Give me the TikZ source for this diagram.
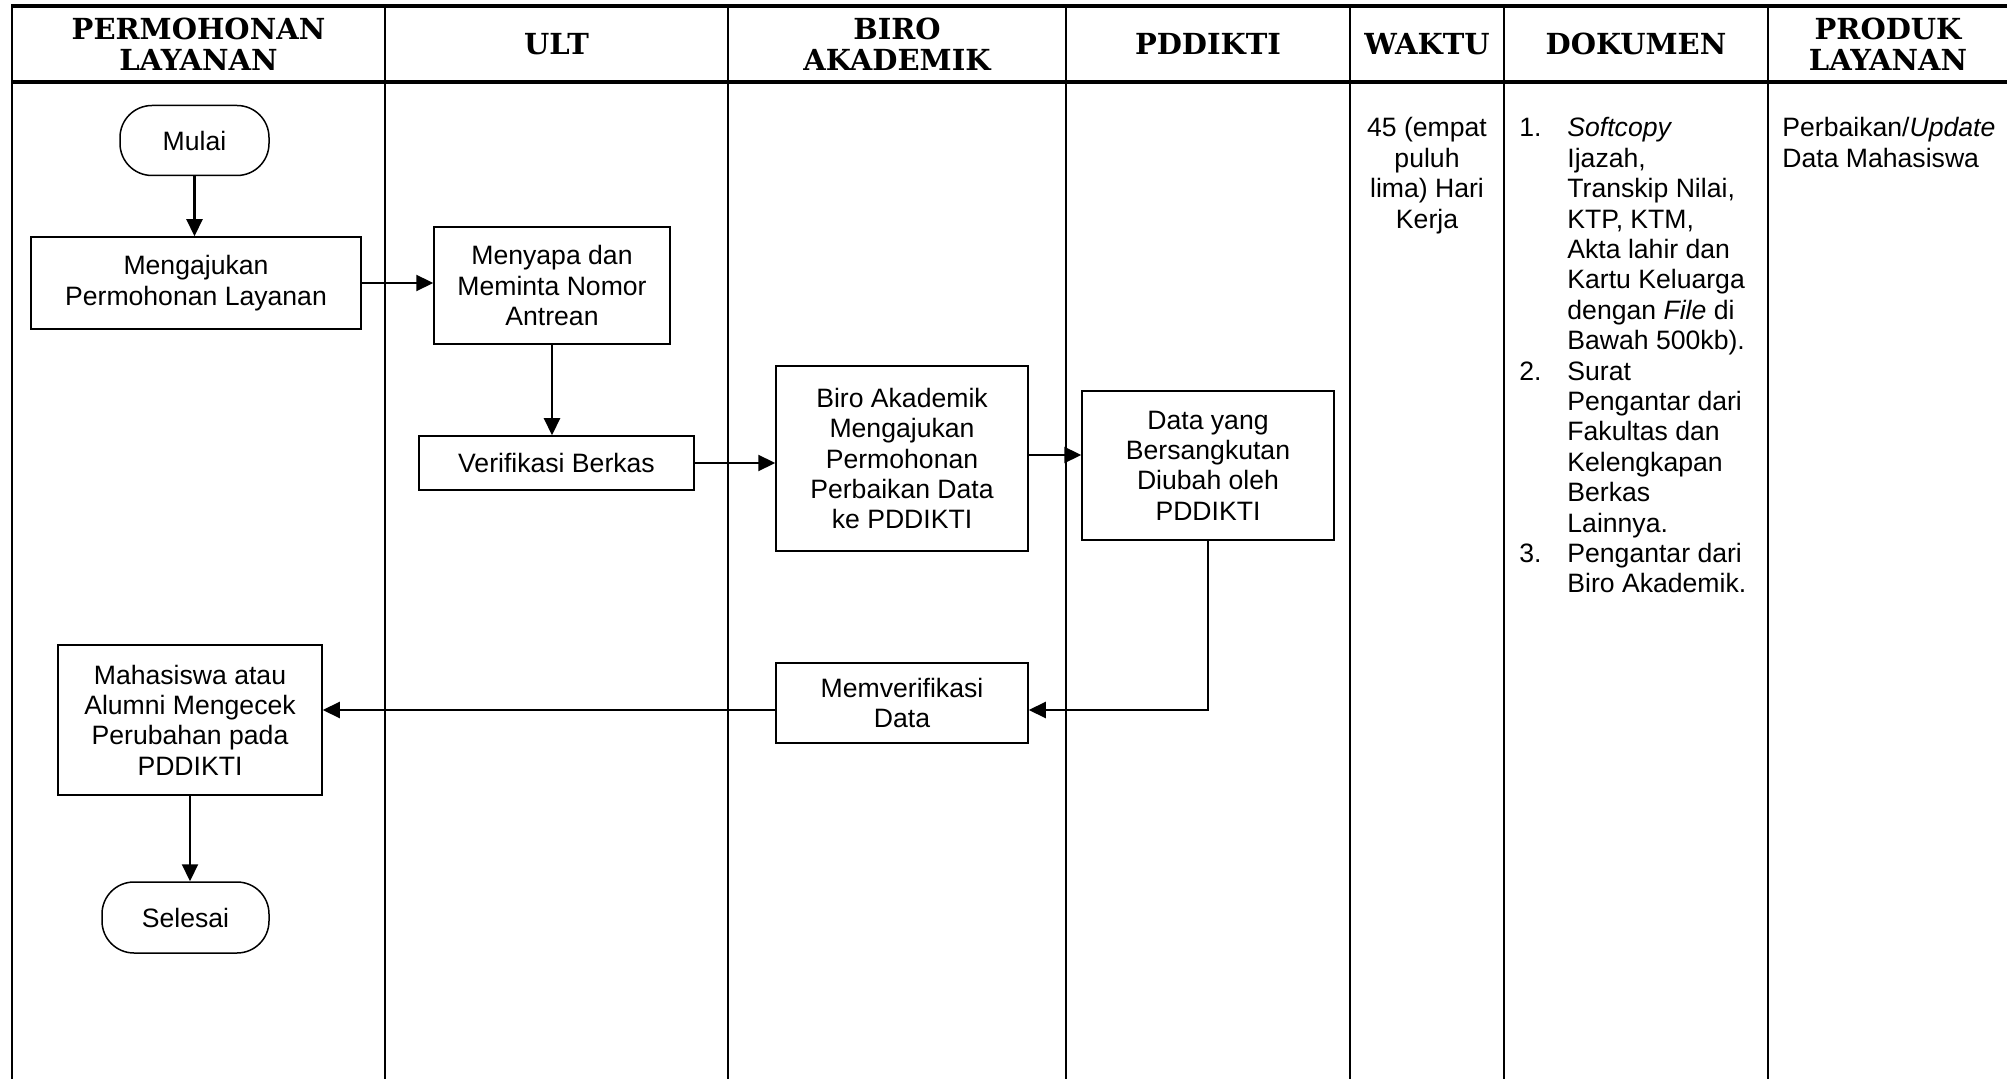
\documentclass[tikz,border=0pt]{standalone}
\usepackage{fontspec}
\setmainfont{Liberation Sans}
\newfontfamily\hdrfont{DejaVu Serif}
\usetikzlibrary{arrows.meta}
\newcommand\bdyfnt{\fontsize{13.3pt}{15.2pt}\selectfont}
\newcommand\hdrfnt{\hdrfont\bfseries\fontsize{14.5pt}{15.6pt}\selectfont}
\begin{document}
\begin{tikzpicture}[x=0.5pt,y=-0.5pt,
  vline/.style={line width=1.1pt},
  hline/.style={line width=1.6pt},
  box/.style={draw,line width=0.75pt,align=center,inner sep=0pt,font=\bdyfnt},
  term/.style={box,rounded corners=16pt},
  conn/.style={line width=1.1pt,-{Triangle[length=8.5pt,width=8pt]}},
  hdr/.style={align=center,inner sep=0pt,font=\hdrfnt},
  txt/.style={inner sep=0pt,font=\bdyfnt},
]
\useasboundingbox (0,0) rectangle (2007,1079);
% table
\draw[hline] (11,6) -- (2007,6);
\draw[hline] (11,82) -- (2007,82);
\foreach \x in {12,385,728,1066,1350,1504,1768}
  \draw[vline] (\x,6) -- (\x,1079);
% headers
\node[hdr] (h1) at (198.5,44) {PERMOHONAN\\LAYANAN};
\node[hdr] (h2) at (556.5,44) {ULT};
\node[hdr] (h3) at (897,44) {BIRO\\AKADEMIK};
\node[hdr] (h4) at (1208,44) {PDDIKTI};
\node[hdr] (h5) at (1427,44) {WAKTU};
\node[hdr] (h6) at (1636,44) {DOKUMEN};
\node[hdr] (h7) at (1888,44) {PRODUK\\LAYANAN};
% flow nodes
\node[term,minimum width=74.5pt,minimum height=35pt] (mulai) at (194.5,140.5) {Mulai};
\node[box,minimum width=165pt,minimum height=46pt] (mengajukan) at (196,283) {Mengajukan\\Permohonan Layanan};
\node[box,minimum width=118pt,minimum height=58.5pt] (menyapa) at (552,285.5) {Menyapa dan\\Meminta Nomor\\Antrean};
\node[box,minimum width=137.5pt,minimum height=27pt] (verifikasi) at (556.5,463) {Verifikasi Berkas};
\node[box,minimum width=126pt,minimum height=92.5pt] (biro) at (902,458.5) {Biro Akademik\\Mengajukan\\Permohonan\\Perbaikan Data\\ke PDDIKTI};
\node[box,minimum width=126pt,minimum height=74.5pt] (data) at (1208,465.5) {Data yang\\Bersangkutan\\Diubah oleh\\PDDIKTI};
\node[box,minimum width=126pt,minimum height=40pt] (memv) at (902,703) {Memverifikasi\\Data};
\node[box,minimum width=132pt,minimum height=75pt] (mahasiswa) at (190,720) {Mahasiswa atau\\Alumni Mengecek\\Perubahan pada\\PDDIKTI};
\node[term,minimum width=83.5pt,minimum height=35.5pt] (selesai) at (185.5,917.5) {Selesai};
% connectors
\draw[conn] (mulai.south) -- (mulai.south |- mengajukan.north);
\draw[conn] (mengajukan.east) -- (mengajukan.east -| menyapa.west);
\draw[conn] (menyapa.south) -- (menyapa.south |- verifikasi.north);
\draw[conn] (verifikasi.east) -- (verifikasi.east -| biro.west);
\draw[conn] ([yshift=1.75pt]biro.east) -- ([yshift=1.75pt]biro.east -| data.west);
\draw[conn] (data.south) |- ([yshift=-3.5pt]memv.east);
\draw[conn] ([yshift=-3.5pt]memv.west) -- ([yshift=-3.5pt]memv.west -| mahasiswa.east);
\draw[conn] (mahasiswa.south) -- (mahasiswa.south |- selesai.north);
% column texts (base anchor = baseline of last line)
\node[txt,anchor=base,align=center] (waktu) at (1427,228.2) {45 (empat\\puluh\\lima) Hari\\Kerja};
\node[txt,anchor=base west,align=left] (dokumen) at (1519,593) {%
\makebox[24pt][l]{1.}\textit{Softcopy}\\
\hspace*{24pt}Ijazah,\\
\hspace*{24pt}Transkip Nilai,\\
\hspace*{24pt}KTP, KTM,\\
\hspace*{24pt}Akta lahir dan\\
\hspace*{24pt}Kartu Keluarga\\
\hspace*{24pt}dengan \textit{File} di\\
\hspace*{24pt}Bawah 500kb).\\
\makebox[24pt][l]{2.}Surat\\
\hspace*{24pt}Pengantar dari\\
\hspace*{24pt}Fakultas dan\\
\hspace*{24pt}Kelengkapan\\
\hspace*{24pt}Berkas\\
\hspace*{24pt}Lainnya.\\
\makebox[24pt][l]{3.}Pengantar dari\\
\hspace*{24pt}Biro Akademik.};
\node[txt,anchor=base west,align=left] (produk) at (1782,167.4) {Perbaikan/\textit{Update}\\Data Mahasiswa};
\end{tikzpicture}
\end{document}
